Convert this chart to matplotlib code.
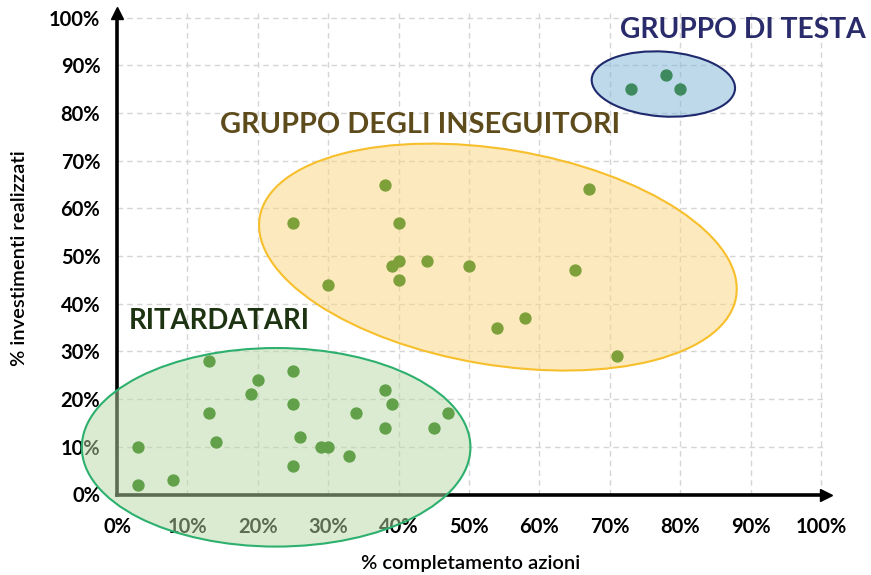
import matplotlib.pyplot as plt
from matplotlib.patches import Ellipse
from matplotlib.transforms import Affine2D
from matplotlib.ticker import PercentFormatter

plt.rcParams['font.family'] = ['Lato', 'DejaVu Sans']

# data (% completamento azioni, % investimenti realizzati)
rit_x = [3, 3, 8, 13, 13, 14, 19, 20, 25, 25, 25, 26, 29, 30, 33, 34, 38, 39, 38, 45, 47]
rit_y = [10, 2, 3, 28, 17, 11, 21, 24, 26, 19, 6, 12, 10, 10, 8, 17, 22, 19, 14, 14, 17]

ins_x = [38, 67, 25, 40, 39, 40, 44, 50, 65, 40, 30, 58, 54, 71]
ins_y = [65, 64, 57, 57, 48, 49, 49, 48, 47, 45, 44, 37, 35, 29]

testa_x = [73, 78, 80]
testa_y = [85, 88, 85]

# groups: name, centre, semi-axes (x units), angle, colours
groups = ['RITARDATARI', 'GRUPPO DEGLI INSEGUITORI', 'GRUPPO DI TESTA']
centres = [(22.6, 9.9), (54.1, 49.8), (77.6, 86.1)]
semi_axes = [(27.6, 14.1), (34.3, 15.3), (10.2, 4.6)]
angles = [0, -9.5, -4]
fill_cols = ['#b9d9a5', '#fbd57d', '#7db5d7']
edge_cols = ['#2db06e', '#f7bf2b', '#1f2a6e']
dot_cols = ['#62a04a', '#7ea03a', '#3e8a5e']
text_cols = ['#1d3312', '#5e4b1c', '#2a2b6a']
text_pos = [(1.6, 36.4), (43.0, 77.5), (88.9, 97.4)]
text_ha = ['left', 'center', 'center']
text_size = [19.8, 20.8, 20.3]

fig = plt.figure(figsize=(8.71, 5.75), dpi=100)
ax = fig.add_axes([117 / 871, 80.5 / 575, 709 / 871, 481.5 / 575])
ax.set_xlim(0, 100.7)
ax.set_ylim(0, 101)

ticks = list(range(0, 101, 10))
ax.set_xticks(ticks)
ax.set_yticks(ticks)
ax.xaxis.set_major_formatter(PercentFormatter(decimals=0))
ax.yaxis.set_major_formatter(PercentFormatter(decimals=0))
ax.tick_params(length=0, labelsize=14.5)
ax.tick_params(axis='x', pad=16)
ax.tick_params(axis='y', pad=12)
for lab in ax.get_xticklabels() + ax.get_yticklabels():
    lab.set_fontweight('bold')

ax.grid(True, color='#d5d5d5', linestyle=(0, (4, 3)), linewidth=1)
ax.set_axisbelow(True)

for s in ['top', 'right']:
    ax.spines[s].set_visible(False)
for s in ['left', 'bottom']:
    ax.spines[s].set_linewidth(2.6)
    ax.spines[s].set_color('black')
ax.plot(1, 0, '>k', ms=9, transform=ax.get_yaxis_transform(), clip_on=False)
ax.plot(0, 1, '^k', ms=9, transform=ax.get_xaxis_transform(), clip_on=False)

ax.set_xlabel('% completamento azioni', fontsize=14.5, fontweight='semibold')
ax.set_ylabel('% investimenti realizzati', fontsize=14.5, fontweight='semibold')
ax.xaxis.set_label_coords(0.498, -0.126)
ax.yaxis.set_label_coords(-0.125, 0.491)

# ellipses drawn in isotropic units so rotation looks right
fig.canvas.draw()
bb = ax.get_window_extent()
k = (bb.height / 101) / (bb.width / 100.7)
iso = Affine2D().scale(1, 1 / k) + ax.transData

for i in range(3):
    cx, cy = centres[i]
    a, b = semi_axes[i]
    e = Ellipse((cx, cy * k), 2 * a, 2 * b, angle=angles[i], transform=iso,
                facecolor=fill_cols[i], alpha=0.5, edgecolor='none',
                zorder=5, clip_on=False)
    ax.add_patch(e)
    e2 = Ellipse((cx, cy * k), 2 * a, 2 * b, angle=angles[i], transform=iso,
                 facecolor='none', edgecolor=edge_cols[i], linewidth=1.5,
                 zorder=5.5, clip_on=False)
    ax.add_patch(e2)

ax.scatter(rit_x, rit_y, s=62, color=dot_cols[0], zorder=6, clip_on=False)
ax.scatter(ins_x, ins_y, s=62, color=dot_cols[1], zorder=6, clip_on=False)
ax.scatter(testa_x, testa_y, s=62, color=dot_cols[2], zorder=6, clip_on=False)

for i in range(3):
    ax.text(text_pos[i][0], text_pos[i][1], groups[i], color=text_cols[i],
            fontsize=text_size[i], fontweight='bold', ha=text_ha[i],
            va='center', zorder=7)

fig.savefig('out.png', dpi=100)
